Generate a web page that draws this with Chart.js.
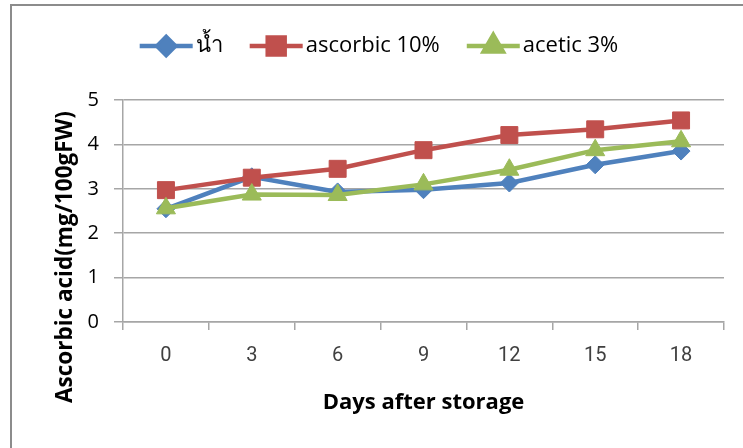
<!DOCTYPE html>
<html>
<head>
<meta charset="utf-8">
<script src="https://cdn.jsdelivr.net/npm/chart.js@4.4.1/dist/chart.umd.min.js"></script>
<style>
  html, body { margin: 0; padding: 0; background: #fff; }
  #wrap { width: 743px; height: 448px; }
</style>
</head>
<body>
<div id="wrap"><canvas id="chart" width="743" height="448"></canvas></div>
<script>
const days = ['0', '3', '6', '9', '12', '15', '18'];
const water = [2.55, 3.27, 2.93, 2.98, 3.13, 3.54, 3.85];
const ascorbic = [2.97, 3.25, 3.45, 3.87, 4.21, 4.34, 4.54];
const acetic = [2.56, 2.87, 2.86, 3.10, 3.43, 3.87, 4.07];
const seriesNames = ['น้ำ', 'ascorbic 10%', 'acetic 3%'];
const yMin = 0;
const yMax = 5;

const FONT = "'Open Sans', 'Noto Sans', sans-serif";
const NARROW = "'Liberation Sans Narrow', 'Roboto', sans-serif";
const GRID = '#a6a6a6';

// frame + legend + rotated y title, drawn on top of the chart
const extras = {
  id: 'extras',
  afterDraw(chart) {
    const ctx = chart.ctx;
    ctx.save();
    ctx.strokeStyle = '#8c8c8c';
    ctx.lineWidth = 2;
    ctx.beginPath();
    ctx.moveTo(11, 460);
    ctx.lineTo(11, 5);
    ctx.lineTo(760, 5);
    ctx.stroke();

    // legend
    ctx.font = '22px ' + FONT;
    ctx.textBaseline = 'middle';
    const lineW = 53, gap = 3, itemGap = 27;
    const items = chart.data.datasets.map(ds => ({ ds, w: lineW + gap + ctx.measureText(ds.label).width }));
    const total = items.reduce((a, it) => a + it.w, 0) + itemGap * (items.length - 1);
    let x = 379 - total / 2;
    const y = 46;
    items.forEach(({ ds, w }) => {
      ctx.strokeStyle = ds.borderColor;
      ctx.lineWidth = ds.borderWidth;
      ctx.beginPath();
      ctx.moveTo(x, y);
      ctx.lineTo(x + lineW, y);
      ctx.stroke();
      Chart.helpers.drawPoint(ctx, {
        pointStyle: ds.pointStyle, radius: ds.pointRadius, borderWidth: 1
      }, x + lineW / 2, y);
      ctx.fillStyle = ds.borderColor;
      ctx.strokeStyle = ds.borderColor;
      ctx.fill();
      ctx.fillStyle = '#000';
      ctx.textAlign = 'left';
      ctx.fillText(ds.label, x + lineW + gap, y);
      x += w + itemGap;
    });

    // y axis title
    ctx.translate(66, 257);
    ctx.rotate(-Math.PI / 2);
    ctx.font = 'bold 22.5px ' + FONT;
    ctx.textAlign = 'center';
    ctx.fillStyle = '#000';
    ctx.fillText('Ascorbic acid(mg/100gFW)', 0, 0);
    ctx.restore();
  }
};

const mk = (label, data, color, style, r, order) => ({
  label, data, order,
  borderColor: color, backgroundColor: color,
  borderWidth: 4.5,
  pointStyle: style, pointRadius: r, pointHoverRadius: r,
  pointBackgroundColor: color, pointBorderColor: color, pointBorderWidth: 1,
  tension: 0
});

new Chart(document.getElementById('chart'), {
  type: 'line',
  data: {
    labels: days,
    datasets: [
      mk(seriesNames[0], water, '#4f81bd', 'rectRot', 9, 3),
      mk(seriesNames[1], ascorbic, '#c0504d', 'rect', 12, 2),
      mk(seriesNames[2], acetic, '#9bbb59', 'triangle', 11, 1)
    ]
  },
  options: {
    responsive: false,
    animation: false,
    layout: { padding: { top: 100, right: 19, left: 11, bottom: 0 } },
    plugins: { legend: { display: false }, tooltip: { enabled: false } },
    scales: {
      x: {
        offset: true,
        grid: { offset: true, drawOnChartArea: false, drawTicks: true, tickLength: 8, color: GRID, lineWidth: 1.5 },
        border: { color: GRID, width: 1.5 },
        ticks: { padding: 14, color: '#404040', font: { size: 20, family: NARROW } },
        title: {
          display: true, text: 'Days after storage', color: '#000',
          font: { size: 22, weight: 'bold', family: FONT },
          padding: { top: 0, bottom: 32 }
        },
        afterFit(s) { s.height = 126; }
      },
      y: {
        min: yMin, max: yMax,
        grid: { color: GRID, lineWidth: 1.5, tickLength: 9 },
        border: { color: GRID, width: 1.5 },
        ticks: { stepSize: 1, padding: 15, color: '#000', font: { size: 20, family: FONT } },
        afterFit(s) { s.width = 112; }
      }
    }
  },
  plugins: [extras]
});
</script>
</body>
</html>
